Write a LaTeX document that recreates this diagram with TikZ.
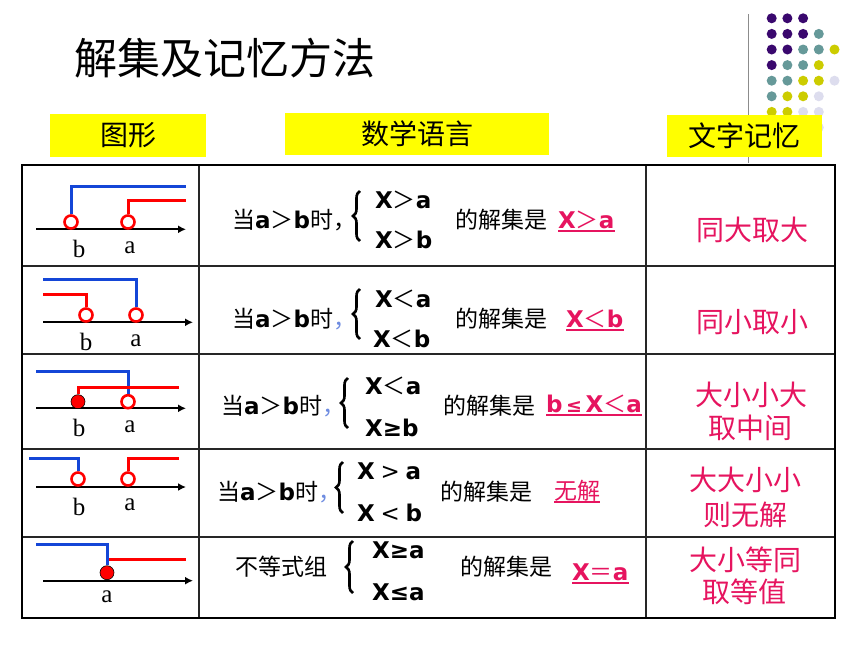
\documentclass[tikz,border=0pt]{standalone}
\usepackage{fontspec}
\setmainfont{Liberation Serif}
\newfontfamily\cjk{Noto Sans CJK SC}
\newfontfamily\dvs{DejaVu Sans}
\usetikzlibrary{arrows.meta,decorations.pathreplacing}
\definecolor{ansred}{RGB}{230,20,95}
\definecolor{figblue}{RGB}{20,70,215}
\definecolor{figred}{RGB}{255,0,0}
\definecolor{hdryellow}{RGB}{255,255,0}
\definecolor{dotP}{RGB}{58,8,110}
\definecolor{dotT}{RGB}{102,153,153}
\definecolor{dotY}{RGB}{204,204,0}
\definecolor{dotL}{RGB}{221,221,238}
\definecolor{commablue}{RGB}{110,140,225}
\newcommand\LtB[1]{{\dvs\bfseries #1}}
\newcommand\Cj[1]{{\cjk #1}}
\newcommand\BlueComma{{\color{commablue}\cjk ，}}
\begin{document}
\begin{tikzpicture}[x=1pt,y=-1pt,
  hdrbox/.style={fill=hdryellow, draw=none, inner sep=0, font=\cjk\fontsize{28}{32}\selectfont},
  midtext/.style={font=\fontsize{23}{27}\selectfont, inner sep=0, anchor=base west},
  memtext/.style={font=\cjk\fontsize{28}{32}\selectfont, text=ansred, inner sep=0},
  anstext/.style={font=\fontsize{23}{27}\selectfont, text=ansred, inner sep=0, anchor=base west},
  ansline/.style={draw=ansred, line width=1.5pt},
  axisl/.style={draw=black, line width=2pt, -{Latex[length=8pt,width=8pt]}},
  bl/.style={draw=figblue, line width=3pt},
  rl/.style={draw=figred, line width=3pt},
  oc/.style={circle, draw=figred, line width=2.6pt, fill=white, minimum size=13pt, inner sep=0},
  fc/.style={circle, draw=black, line width=0.6pt, fill=figred, minimum size=14pt, inner sep=0},
  lab/.style={font=\fontsize{25}{28}\selectfont, inner sep=0, anchor=base},
  brc/.style={decorate, decoration={brace, amplitude=7pt}, line width=2.6pt},
  gdot/.style={circle, inner sep=0, minimum size=10pt, draw=none},
  inner/.style={draw=black!85, line width=1.2pt},
  outer/.style={draw=black, line width=2.5pt}
]
\fill[white] (0,0) rectangle (860,645);
\useasboundingbox (0,0) rectangle (860,645);

% decorative dots and line
\foreach \r/\n in {0/2,1/3,2/4,3/3,4/4,5/3,6/3,7/3}{
  \foreach \c in {0,...,\n}{
    \pgfmathtruncatemacro\s{\r+\c}
    \ifnum\s<4 \def\dc{dotP}\else\ifnum\s<6 \def\dc{dotT}\else\ifnum\s<8 \def\dc{dotY}\else\def\dc{dotL}\fi\fi\fi
    \node[gdot, fill=\dc] (d-\r-\c) at ({771.7+15.7*\c},{18.3+15.6*\r}) {};
  }
}
\coordinate (gl1) at (748,14);
\coordinate (gl2) at (748,163);
\draw[black!45, line width=1pt] (gl1) -- (gl2);

% title
\node[font=\cjk\fontsize{43}{48}\selectfont, inner sep=0] (title) at (225,58) {解集及记忆方法};

% headers
\node[hdrbox, minimum width=156pt, minimum height=43pt] (h1) at (128,135.5) {图形};
\node[hdrbox, minimum width=264pt, minimum height=42pt] (h2) at (417,134) {数学语言};
\node[hdrbox, minimum width=155pt, minimum height=42pt] (h3) at (744.5,136) {文字记忆};

% table
\coordinate (t-nw) at (22,165);
\coordinate (t-se) at (835,618);
\foreach \yy in {266,354,449,537}{
  \draw[inner] (22,\yy) -- (835,\yy);
}
\draw[inner] (199,165) -- (199,618);
\draw[inner] (646,165) -- (646,618);
\draw[outer] (t-nw) rectangle (t-se);

% ---------- figures ----------
% row 1
\coordinate (r1s) at (36,229.3); \coordinate (r1e) at (186,229.3);
\draw[axisl] (r1s) -- (r1e);
\coordinate (r1be) at (186,186); \coordinate (r1re) at (186,200.7);
\node[oc] (r1b) at (71,222) {};
\node[oc] (r1a) at (128,222) {};
\draw[bl] (r1b.north) |- (r1be);
\draw[rl] (r1a.north) |- (r1re);
\node[lab] (r1lb) at (79,257) {b};
\node[lab] (r1la) at (130,253) {a};

% row 2
\coordinate (r2s) at (43,322.3); \coordinate (r2e) at (193,322.3);
\draw[axisl] (r2s) -- (r2e);
\node[oc] (r2b) at (86,315) {};
\node[oc] (r2a) at (136,315) {};
\coordinate (r2bs) at (43,279); \coordinate (r2rs) at (43,294);
\draw[bl] (r2bs) -| (r2a.north);
\draw[rl] (r2rs) -| (r2b.north);
\node[lab] (r2lb) at (86,350) {b};
\node[lab] (r2la) at (136,346) {a};

% row 3
\coordinate (r3s) at (36,408.3); \coordinate (r3e) at (186,408.3);
\draw[axisl] (r3s) -- (r3e);
\node[fc] (r3b) at (78,401.7) {};
\node[oc] (r3a) at (128,401.7) {};
\coordinate (r3bs) at (36,371.7); \coordinate (r3re) at (179,387);
\draw[bl] (r3bs) -| (r3a.north);
\draw[rl] (r3b.north) |- (r3re);
\node[lab] (r3lb) at (79,436.5) {b};
\node[lab] (r3la) at (130,432.3) {a};

% row 4
\coordinate (r4s) at (36,487); \coordinate (r4e) at (186,487);
\draw[axisl] (r4s) -- (r4e);
\node[oc] (r4b) at (78,479) {};
\node[oc] (r4a) at (128,479) {};
\coordinate (r4bs) at (29,458); \coordinate (r4re) at (179,458);
\draw[bl] (r4bs) -| (r4b.north);
\draw[rl] (r4a.north) |- (r4re);
\node[lab] (r4lb) at (79,515) {b};
\node[lab] (r4la) at (130,510.7) {a};

% row 5
\coordinate (r5s) at (43,580.7); \coordinate (r5e) at (193,580.7);
\draw[axisl] (r5s) -- (r5e);
\coordinate (r5bs) at (36,544); \coordinate (r5rs) at (107,559); \coordinate (r5re) at (186,559);
\draw[rl] (r5rs) -- (r5re);
\node[fc] (r5a) at (107,572.7) {};
\draw[bl] (r5bs) -| (r5a.north);
\node[lab] (r5la) at (107,602.7) {a};

% ---------- math language ----------
% row 1
\node[midtext] (m1a) at (232,228) {\Cj{当}\LtB{a}\Cj{＞}\LtB{b}\Cj{时，}};
\draw[brc] (360,241) -- (360,191);
\node[midtext] (m1b) at (375,208) {\LtB{X}\Cj{＞}\LtB{a}};
\node[midtext] (m1c) at (375,248) {\LtB{X}\Cj{＞}\LtB{b}};
\node[midtext] (m1d) at (455,228) {\Cj{的解集是}};
\node[anstext] (m1e) at (558,228) {\LtB{X}\Cj{＞}\LtB{a}};
\draw[ansline] ([yshift=-3pt]m1e.base west) -- ([yshift=-3pt]m1e.base east);

% row 2
\node[midtext] (m2a) at (232,327) {\Cj{当}\LtB{a}\Cj{＞}\LtB{b}\Cj{时}\BlueComma};
\draw[brc] (360,339) -- (360,289);
\node[midtext] (m2b) at (375,307) {\LtB{X}\Cj{＜}\LtB{a}};
\node[midtext] (m2c) at (373,347) {\LtB{X}\Cj{＜}\LtB{b}};
\node[midtext] (m2d) at (455,327) {\Cj{的解集是}};
\node[anstext] (m2e) at (566,327) {\LtB{X}\Cj{＜}\LtB{b}};
\draw[ansline] ([yshift=-3pt]m2e.base west) -- ([yshift=-3pt]m2e.base east);

% row 3
\node[midtext] (m3a) at (221,414) {\Cj{当}\LtB{a}\Cj{＞}\LtB{b}\Cj{时}\BlueComma};
\draw[brc] (348,428) -- (348,378);
\node[midtext] (m3b) at (365,394) {\LtB{X}\Cj{＜}\LtB{a}};
\node[midtext] (m3c) at (365,436) {\LtB{X≥b}};
\node[midtext] (m3d) at (443,414) {\Cj{的解集是}};
\node[anstext] (m3e) at (546,412) {\LtB{b}\hspace{3.5pt}{\dvs\bfseries\fontsize{19}{22}\selectfont ≤}\hspace{3.5pt}\LtB{X}\Cj{＜}\LtB{a}};
\draw[ansline] ([yshift=-3pt]m3e.base west) -- ([yshift=-3pt]m3e.base east);

% row 4
\node[midtext] (m4a) at (217,500) {\Cj{当}\LtB{a}\Cj{＞}\LtB{b}\Cj{时}\BlueComma};
\draw[brc] (343,513) -- (343,462);
\node[midtext] (m4b) at (357,479) {\LtB{X} {\dvs >} \LtB{a}};
\node[midtext] (m4c) at (357,521) {\LtB{X} {\dvs <} \LtB{b}};
\node[midtext] (m4d) at (440,500) {\Cj{的解集是}};
\node[anstext] (m4e) at (554,499) {\Cj{无解}};
\draw[ansline] ([yshift=-3pt]m4e.base west) -- ([yshift=-3pt]m4e.base east);

% row 5
\node[midtext] (m5a) at (235,575) {\Cj{不等式组}};
\draw[brc] (353,593) -- (353,541);
\node[midtext] (m5b) at (372,558) {\LtB{X≥a}};
\node[midtext] (m5c) at (372,600) {\LtB{X≤a}};
\node[midtext] (m5d) at (460,575) {\Cj{的解集是}};
\node[anstext] (m5e) at (572,580) {\LtB{X}\Cj{＝}\LtB{a}};
\draw[ansline] ([yshift=-3pt]m5e.base west) -- ([yshift=-3pt]m5e.base east);

% ---------- memory column ----------
\node[memtext] (k1) at (752.5,230) {同大取大};
\node[memtext] (k2) at (752.5,322) {同小取小};
\node[memtext] (k3) at (751.5,395) {大小小大};
\node[memtext] (k3b) at (750.5,428) {取中间};
\node[memtext] (k4) at (745,480) {大大小小};
\node[memtext] (k4b) at (745,515) {则无解};
\node[memtext] (k5) at (745,560) {大小等同};
\node[memtext] (k5b) at (744.5,592) {取等值};
\end{tikzpicture}
\end{document}
